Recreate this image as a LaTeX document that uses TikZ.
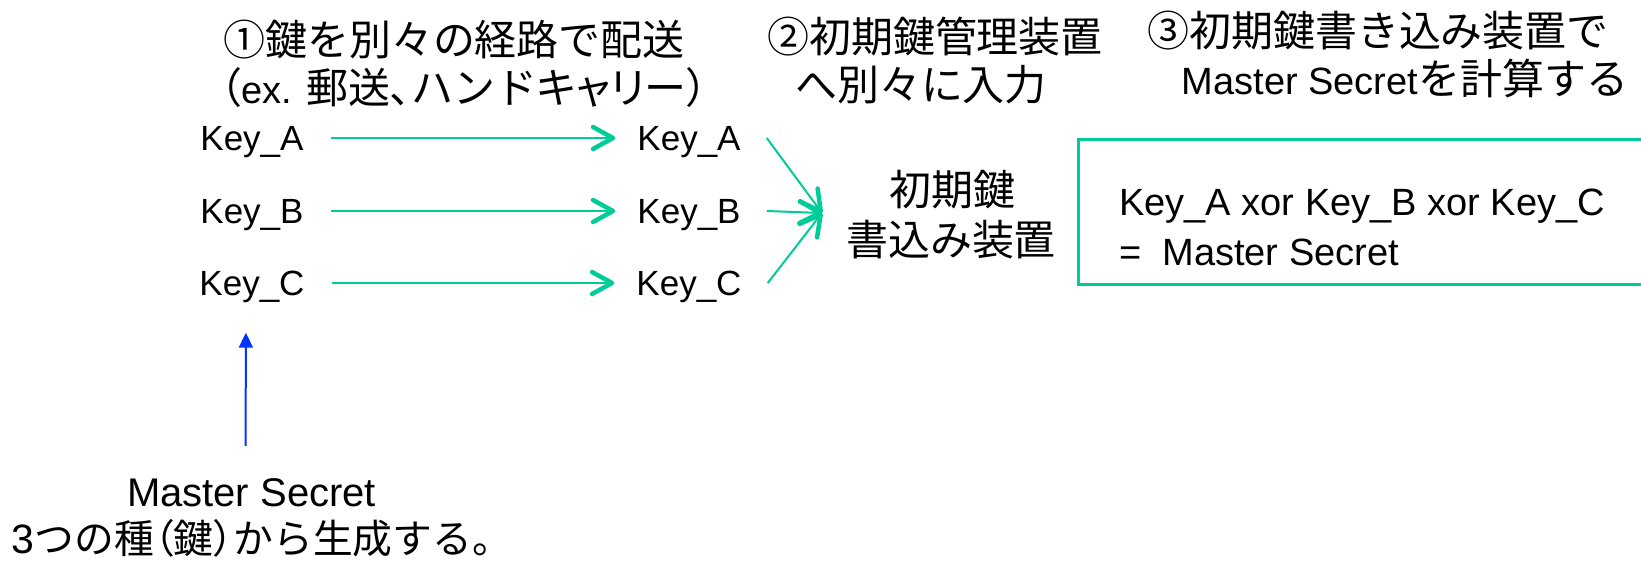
\documentclass[tikz,border=0pt]{standalone}
\usepackage{fontspec}
\setmainfont{Liberation Sans}
\newfontfamily\jp[Scale=1.105]{Noto Sans CJK JP}
\newfontfamily\jpp[Scale=1.105,RawFeature=+palt]{Noto Sans CJK JP}
\usetikzlibrary{arrows.meta}
\definecolor{teal1}{RGB}{0,204,153}
\definecolor{blue1}{RGB}{0,51,255}
\tikzset{
  ttl/.style={anchor=base, inner sep=0pt, font=\fontsize{38}{46}\selectfont},
  keylbl/.style={inner sep=0pt, text height=25pt, text depth=0pt, font=\fontsize{35}{40}\selectfont},
  barbtip/.style={-{Straight Barb[length=20pt,width=22pt,line width=4.5pt,round]}},
  harr/.style={draw=teal1, line width=2.5pt, barbtip},
  carr/.style={draw=teal1, line width=2pt, barbtip},
  barr/.style={draw=blue1, line width=2pt, -{Triangle[length=15pt,width=14pt]}, blue1},
  xbox/.style={draw=teal1, line width=2.5pt, inner sep=0pt, anchor=north west}
}
\begin{document}
\begin{tikzpicture}[x=1pt,y=-1pt]
\useasboundingbox (0,0) rectangle (1641,563);
% titles
\node[ttl] (t1a) at (454,55) {\jp ①鍵を別々の経路で配送};
\node[ttl] (t1b) at (464,103) {{\jpp （}ex. {\jpp 郵送、}{\jp ハンド}{\jpp キャリー）}};
\node[ttl] (t2a) at (935,52) {\jp ②初期鍵管理装置};
\node[ttl] (t2b) at (921,100) {\jp へ別々に入力};
\node[ttl] (t3a) at (1378,46) {\jp ③初期鍵書き込み装置で};
\node[ttl] (t3b) at (1405,94) {Master Secret{\jp を計算する}};
% keys
\node[keylbl] (a1) at (252,138) {Key\_A};
\node[keylbl] (b1) at (252,211) {Key\_B};
\node[keylbl] (c1) at (252,283) {Key\_C};
\node[keylbl] (a2) at (689,138) {Key\_A};
\node[keylbl] (b2) at (689,211) {Key\_B};
\node[keylbl] (c2) at (689,283) {Key\_C};
\draw[harr, shorten <=27pt, shorten >=22pt] (a1) -- (a2);
\draw[harr, shorten <=27pt, shorten >=22pt] (b1) -- (b2);
\draw[harr, shorten <=27pt, shorten >=22pt] (c1) -- (c2);
% device
\node[ttl] (dev1) at (952,205) {\jp 初期鍵};
\node[ttl] (dev2) at (951,255) {\jp 書込み装置};
\coordinate (tip) at (822,213);
\draw[carr] ([xshift=26pt]a2.east) -- (tip);
\draw[carr] ([xshift=26pt]b2.east) -- (tip);
\draw[carr] ([xshift=26pt]c2.east) -- (tip);
% xor box
\node[xbox, minimum width=600pt, minimum height=145pt] (xbox) at (1077,138) {};
\node[anchor=base west, inner sep=0pt, font=\fontsize{38}{46}\selectfont] (x1) at (1119,215) {Key\_A xor Key\_B xor Key\_C};
\node[anchor=base west, inner sep=0pt, font=\fontsize{38}{46}\selectfont] (x2) at (1119,265) {=\ \ Master Secret};
% bottom
\node[anchor=base, inner sep=0pt, font=\fontsize{40}{46}\selectfont] (ms) at (251.5,506) {Master Secret};
\node[anchor=base, inner sep=0pt, font=\fontsize{36}{44}\selectfont] (seed) at (262,553) {{\fontsize{41}{46}\selectfont 3}{\jp つの種}{\jpp （}{\jp 鍵}{\jpp ）}{\jp から生成する。}};
\draw[barr, shorten <=32pt, shorten >=37pt] ([xshift=-6pt]ms.north) -- ([xshift=-6pt]c1.south);
\end{tikzpicture}
\end{document}
